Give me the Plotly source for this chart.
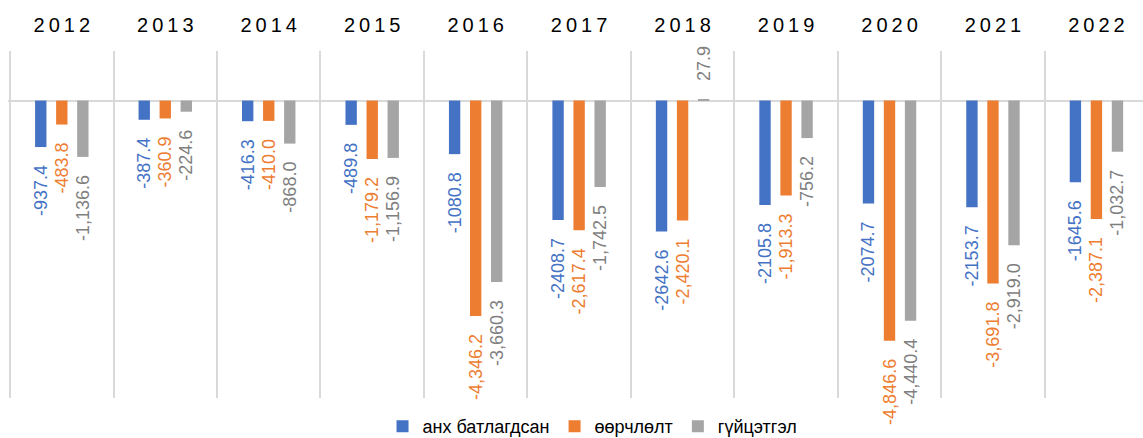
"""
Budget balance by year: approved / amended / actual
"""
import plotly.graph_objects as go

years = ["2012", "2013", "2014", "2015", "2016", "2017", "2018", "2019", "2020", "2021", "2022"]

approved = [-937.4, -387.4, -416.3, -489.8, -1080.8, -2408.7, -2642.6, -2105.8, -2074.7, -2153.7, -1645.6]
amended = [-483.8, -360.9, -410.0, -1179.2, -4346.2, -2617.4, -2420.1, -1913.3, -4846.6, -3691.8, -2387.1]
actual = [-1136.6, -224.6, -868.0, -1156.9, -3660.3, -1742.5, 27.9, -756.2, -4440.4, -2919.0, -1032.7]

series_names = ["анх батлагдсан", "өөрчлөлт", "гүйцэтгэл"]
bar_colors = ["#4472C4", "#ED7D31", "#A5A5A5"]
text_colors = ["#4472C4", "#ED7D31", "#7F7F7F"]

PAD = "\u00a0" * 3


def fmt(v, sep):
    s = f"{v:,.1f}" if sep else f"{v:.1f}"
    # push labels away from the bar end
    return s + PAD if v < 0 else PAD + s


# spread year digits a bit like the original
year_labels = ["\u2009".join(y) for y in years]

fig = go.Figure()
for name, vals, bc, tc, sep in zip(
    series_names, [approved, amended, actual], bar_colors, text_colors, [False, True, True]
):
    fig.add_trace(
        go.Bar(
            x=year_labels,
            y=vals,
            name=name,
            marker=dict(color=bc, line=dict(width=0)),
            text=[fmt(v, sep) for v in vals],
            textposition="outside",
            textangle=-90,
            constraintext="none",
            cliponaxis=False,
            outsidetextfont=dict(family="Arial", size=18, color=tc),
            hoverinfo="skip",
        )
    )

fig.update_layout(
    width=1143,
    height=438,
    margin=dict(l=8, r=0, t=51, b=40, autoexpand=False),
    barmode="group",
    bargap=0.39,
    bargroupgap=0.46,
    plot_bgcolor="white",
    paper_bgcolor="white",
    font=dict(family="Arial", color="black"),
    showlegend=True,
    legend=dict(
        orientation="h",
        x=0.515,
        xanchor="center",
        y=-0.082,
        yanchor="middle",
        font=dict(size=18, color="black"),
        itemwidth=30,
        tracegroupgap=0,
    ),
    xaxis=dict(
        side="top",
        type="category",
        range=[-0.52, 10.45],
        tickson="boundaries",
        showgrid=True,
        gridcolor="#D9D9D9",
        gridwidth=1.5,
        ticks="",
        ticklabelstandoff=14,
        tickfont=dict(size=20, color="black"),
        showline=False,
        zeroline=False,
        automargin=False,
    ),
    yaxis=dict(
        range=[-6000, 1000],
        showgrid=False,
        showticklabels=False,
        zeroline=True,
        zerolinecolor="#D9D9D9",
        zerolinewidth=1.5,
        showline=False,
        automargin=False,
    ),
)

# the page body has a default 8px margin; drop it so the figure sits at 0,0
fig.write_html(
    "out.html",
    config={"displayModeBar": False},
    post_script="document.body.style.margin='0';",
)
